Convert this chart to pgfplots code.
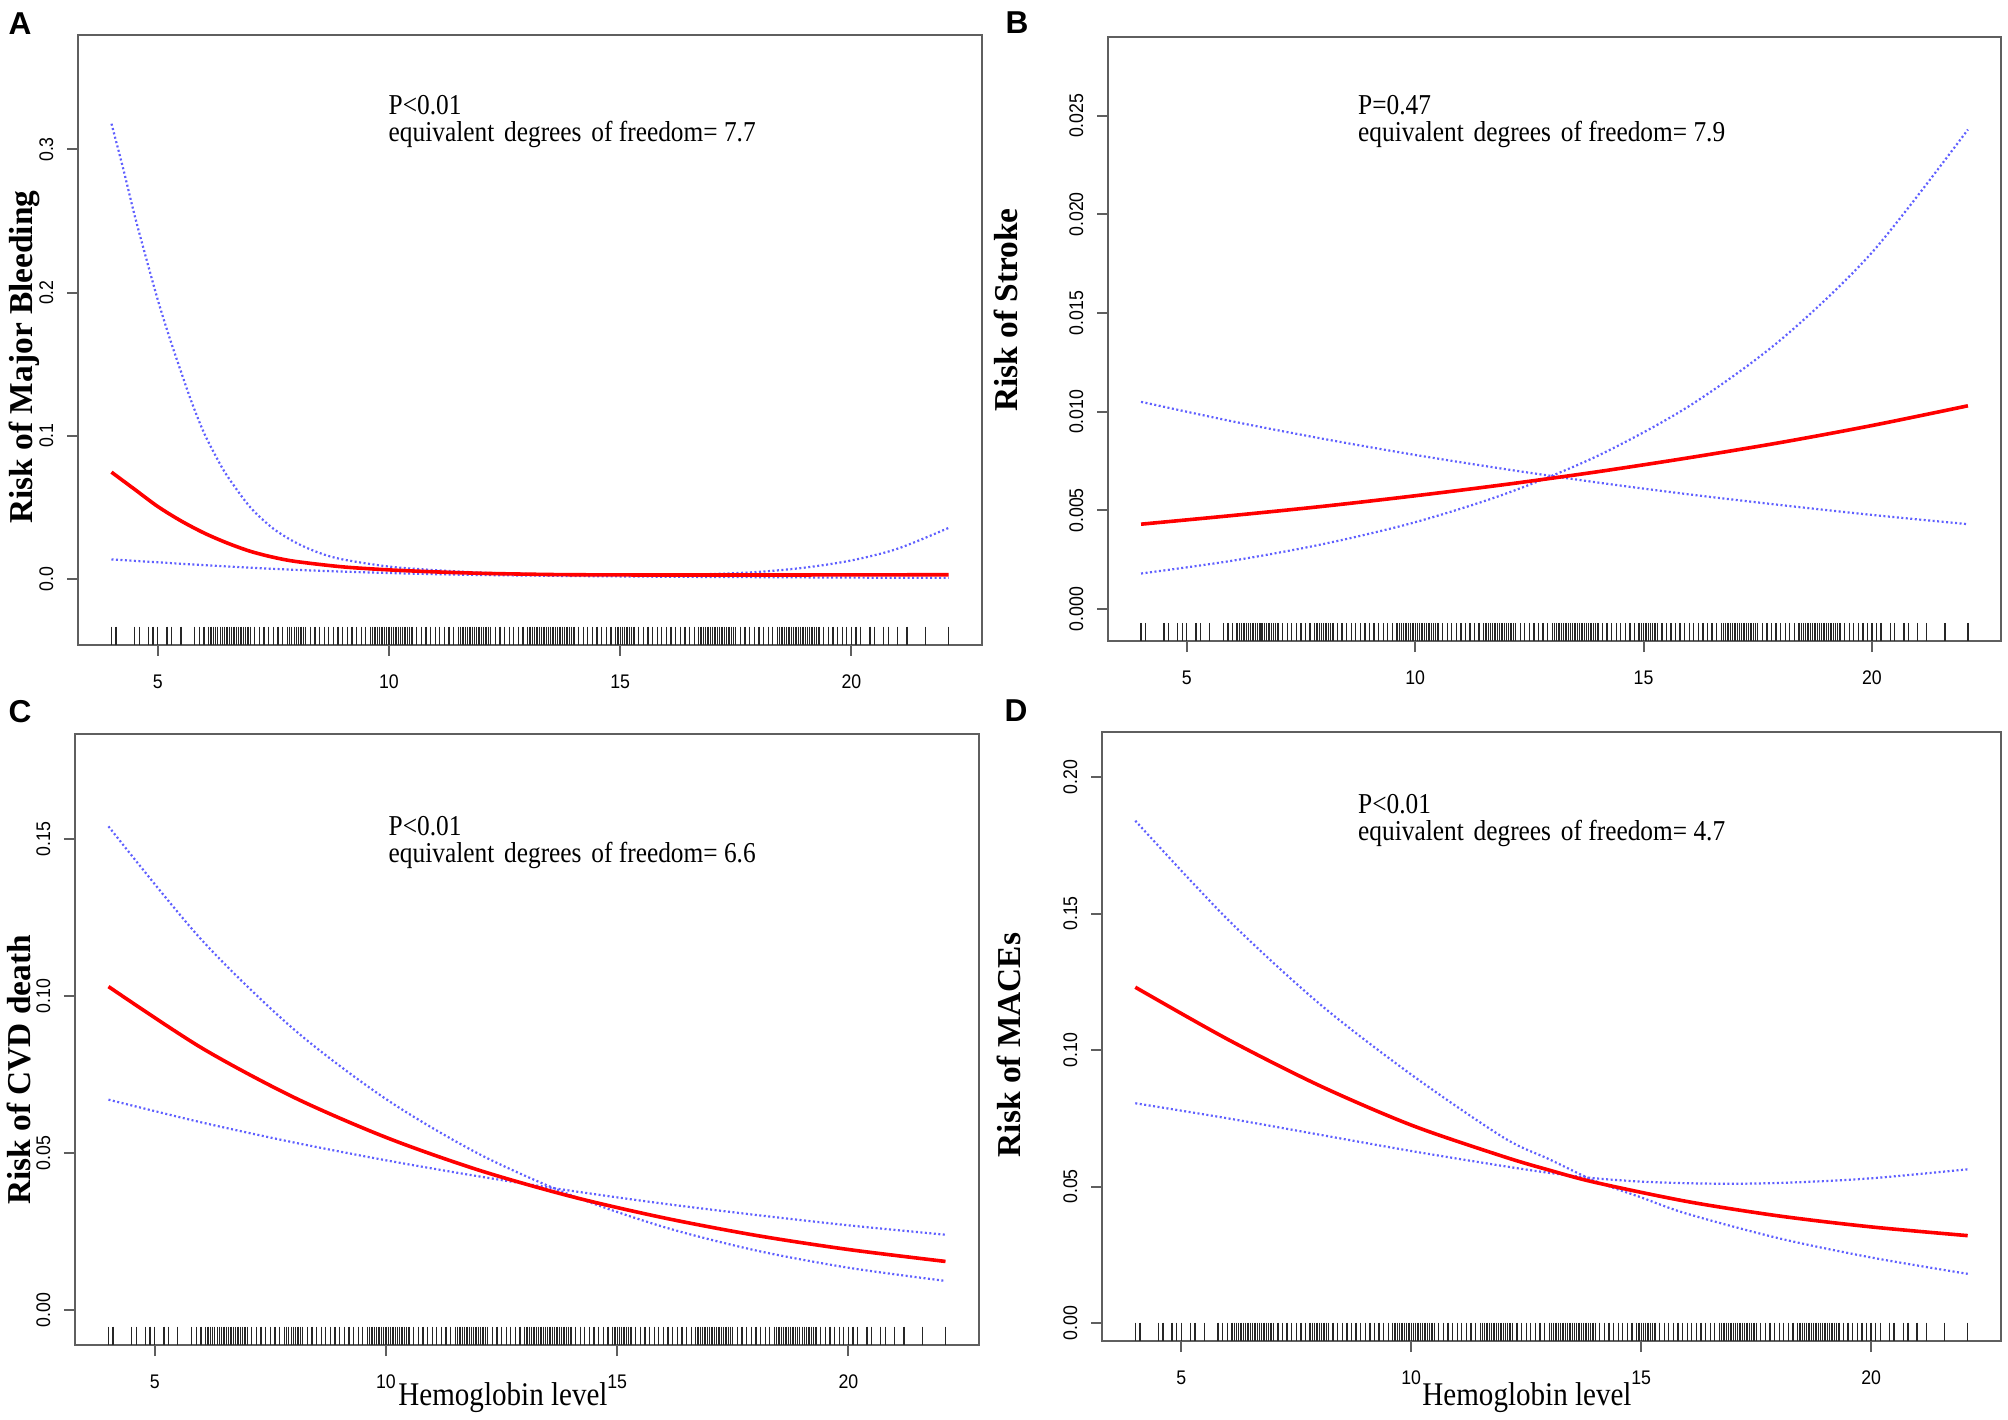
\documentclass[border=0pt]{standalone}
\usepackage{fontspec}
\setmainfont{Liberation Serif}
\newfontfamily\annfont{Liberation Serif}[FakeStretch=0.88]
\newfontfamily\tickfont{Liberation Sans}[FakeStretch=0.9]
\newfontfamily\panelfont{Liberation Sans}
\usepackage{pgfplots}
\pgfplotsset{compat=1.18}
\usepackage{pgfplotstable}

\definecolor{fitred}{RGB}{255,0,0}
\definecolor{ciblue}{RGB}{95,95,255}
\definecolor{boxgray}{RGB}{95,95,95}

% hemoglobin values of the rug (same sample in all four panels)
\pgfplotstableread[row sep=\\]{
hb\\
4.0\\ 4.1\\ 4.5\\ 4.6\\ 4.8\\ 4.9\\ 5.0\\ 5.2\\ 5.3\\ 5.5\\
5.8\\ 5.9\\ 6.0\\ 6.1\\ 6.15\\ 6.2\\ 6.25\\ 6.3\\ 6.35\\ 6.4\\ 6.45\\ 6.5\\ 6.55\\ 6.6\\ 6.65\\ 6.7\\ 6.75\\ 6.8\\ 6.85\\ 6.9\\ 6.95\\
7.0\\ 7.1\\ 7.2\\ 7.3\\ 7.4\\ 7.5\\ 7.6\\ 7.7\\ 7.8\\ 7.85\\ 7.9\\ 7.95\\ 8.0\\ 8.05\\ 8.1\\ 8.15\\ 8.2\\ 8.3\\ 8.4\\ 8.5\\ 8.6\\ 8.7\\ 8.8\\ 8.9\\
9.0\\ 9.1\\ 9.2\\ 9.3\\ 9.4\\ 9.5\\ 9.6\\ 9.65\\ 9.7\\ 9.75\\ 9.8\\ 9.85\\ 9.9\\ 9.95\\ 10.0\\ 10.05\\ 10.1\\ 10.15\\ 10.2\\ 10.25\\ 10.3\\ 10.35\\ 10.4\\ 10.45\\
10.5\\ 10.6\\ 10.7\\ 10.8\\ 10.9\\ 11.0\\ 11.1\\ 11.2\\ 11.3\\ 11.4\\ 11.5\\ 11.55\\ 11.6\\ 11.65\\ 11.7\\ 11.75\\ 11.8\\ 11.85\\ 11.9\\ 11.95\\ 12.0\\ 12.05\\ 12.1\\ 12.15\\
12.2\\ 12.3\\ 12.4\\ 12.5\\ 12.6\\ 12.7\\ 12.8\\ 12.9\\ 13.0\\ 13.05\\ 13.1\\ 13.15\\ 13.2\\ 13.25\\ 13.3\\ 13.35\\ 13.4\\ 13.45\\ 13.5\\ 13.55\\ 13.6\\ 13.65\\ 13.7\\
13.75\\ 13.8\\ 13.85\\ 13.9\\ 13.95\\ 14.0\\ 14.1\\ 14.2\\ 14.3\\ 14.4\\ 14.5\\ 14.6\\ 14.7\\ 14.8\\ 14.9\\ 14.95\\ 15.0\\ 15.05\\ 15.1\\ 15.15\\ 15.2\\ 15.25\\ 15.3\\
15.4\\ 15.5\\ 15.6\\ 15.7\\ 15.8\\ 15.9\\ 16.0\\ 16.1\\ 16.2\\ 16.3\\ 16.4\\ 16.5\\ 16.6\\ 16.7\\ 16.75\\ 16.8\\ 16.85\\ 16.9\\ 16.95\\ 17.0\\ 17.05\\ 17.1\\ 17.15\\
17.2\\ 17.25\\ 17.3\\ 17.35\\ 17.4\\ 17.45\\ 17.5\\ 17.6\\ 17.7\\ 17.8\\ 17.9\\ 18.0\\ 18.1\\ 18.2\\ 18.3\\ 18.4\\ 18.45\\ 18.5\\ 18.55\\ 18.6\\ 18.65\\ 18.7\\
18.75\\ 18.8\\ 18.85\\ 18.9\\ 18.95\\ 19.0\\ 19.05\\ 19.1\\ 19.15\\ 19.2\\ 19.25\\ 19.3\\ 19.4\\ 19.5\\ 19.6\\ 19.7\\ 19.8\\ 19.9\\ 20.0\\ 20.1\\ 20.2\\
20.4\\ 20.5\\ 20.7\\ 20.8\\ 21.0\\ 21.2\\ 21.6\\ 22.1\\
}\rugdata

\pgfplotsset{
  rcs/.style={
    scale only axis,
    anchor=south west,
    xmin=3.276, xmax=22.824,
    xtick={5,10,15,20},
    xticklabels={5,10,15,20},
    scaled x ticks=false, scaled y ticks=false,
    xtick pos=left, ytick pos=left,
    tick align=outside,
    major tick length=1.1mm,
    tick style={boxgray, line width=0.2mm},
    axis line style={boxgray, line width=0.25mm},
    ticklabel style={font=\tickfont\fontsize{5.6}{6}\selectfont, inner sep=0pt},
    xticklabel style={anchor=north, yshift=-1.8mm},
    % rotated labels: a positive yshift moves them to the left on the page
    yticklabel style={rotate=90, anchor=south, yshift=1.3mm},
  },
  fit/.style={fitred, line width=0.36mm, smooth},
  ci/.style={ciblue, line width=0.22mm, dash pattern=on 0.2mm off 0.25mm, smooth},
  rug/.style={only marks, black!85, mark=|, mark size=0.915mm, mark options={line width=0.13mm}},
}

\begin{document}
\begin{tikzpicture}
\useasboundingbox (0,0) rectangle (20.08,14.19);

% ---------------- A: major bleeding
\begin{axis}[rcs, at={(0.78cm,7.74cm)}, width=9.04cm, height=6.10cm,
  ymin=-0.0463, ymax=0.380,
  ytick={0,0.1,0.2,0.3}, yticklabels={0.0,0.1,0.2,0.3}]
\addplot[ci] coordinates {(4.0,0.318) (4.25,0.287) (4.5,0.254) (4.75,0.224) (5.0,0.195)
  (5.25,0.169) (5.5,0.145) (5.75,0.122) (6.0,0.102) (6.25,0.086) (6.5,0.072) (7.0,0.050)
  (7.5,0.035) (8.0,0.025) (8.5,0.018) (9.0,0.0135) (10.0,0.0085) (11.0,0.0060) (12.0,0.0043)
  (13.0,0.0034) (14.0,0.0029) (15.0,0.0027) (16.0,0.0028) (17.0,0.0033) (18.0,0.0048)
  (19.0,0.0078) (20.0,0.0128) (21.0,0.0210) (22.1,0.0355)};
\addplot[ci] coordinates {(4.0,0.0135) (5.0,0.0115) (6.0,0.0095) (7.0,0.0077) (8.0,0.0062)
  (9.0,0.0050) (10.0,0.0040) (11.0,0.0032) (12.0,0.0026) (14.0,0.0019) (16.0,0.0014)
  (18.0,0.0011) (20.0,0.0008) (22.1,0.0006)};
\addplot[fit] coordinates {(4.0,0.0745) (4.5,0.0625) (5.0,0.0505) (5.5,0.0405) (6.0,0.0320)
  (6.5,0.0250) (7.0,0.0192) (7.5,0.0150) (8.0,0.0120) (9.0,0.0083) (10.0,0.0062)
  (11.0,0.0048) (12.0,0.0038) (13.0,0.0032) (14.0,0.0028) (16.0,0.0026) (18.0,0.0026)
  (20.0,0.0027) (22.1,0.0028)};
\addplot[rug] table[x index=0, y index=0, y expr=-0.0399] {\rugdata};
\end{axis}

% ---------------- B: stroke
\begin{axis}[rcs, at={(11.08cm,7.78cm)}, width=8.93cm, height=6.04cm,
  ymin=-0.00162, ymax=0.02899,
  ytick={0,0.005,0.01,0.015,0.02,0.025},
  yticklabels={0.000,0.005,0.010,0.015,0.020,0.025}]
\addplot[ci] coordinates {(4,0.0105) (6,0.00951) (8,0.00862) (10,0.00781) (12,0.00708)
  (14,0.00641) (16,0.00581) (18,0.00527) (20,0.00477) (22.1,0.00430)};
\addplot[ci] coordinates {(4,0.0018) (6,0.00245) (8,0.00330) (10,0.00440) (12,0.00586)
  (14,0.00777) (16,0.01029) (18,0.01364) (20,0.01807) (22.1,0.0243)};
\addplot[fit] coordinates {(4,0.0043) (6,0.00474) (8,0.00521) (10,0.00574) (12,0.00632)
  (14,0.00696) (16,0.00767) (18,0.00844) (20,0.00930) (22.1,0.0103)};
\addplot[rug] table[x index=0, y index=0, y expr=-0.00116] {\rugdata};
\end{axis}

% ---------------- C: CVD death
\begin{axis}[rcs, at={(0.75cm,0.74cm)}, width=9.04cm, height=6.11cm,
  ymin=-0.0111, ymax=0.1834,
  ytick={0,0.05,0.1,0.15}, yticklabels={0.00,0.05,0.10,0.15}]
\addplot[ci] coordinates {(4,0.154) (6,0.1181) (8,0.0895) (10,0.0672) (12,0.0498)
  (14,0.0366) (16,0.0265) (18,0.0190) (20,0.0135) (22.1,0.0093)};
\addplot[ci] coordinates {(4,0.067) (6,0.0598) (8,0.0534) (10,0.0477) (12,0.0426)
  (14,0.0380) (16,0.0339) (18,0.0303) (20,0.0270) (22.1,0.0240)};
\addplot[fit] coordinates {(4,0.103) (6,0.0836) (8,0.0678) (10,0.0550) (12,0.0446)
  (14,0.0362) (16,0.0294) (18,0.0238) (20,0.0193) (22.1,0.0155)};
\addplot[rug] table[x index=0, y index=0, y expr=-0.00818] {\rugdata};
\end{axis}

% ---------------- D: MACEs
\begin{axis}[rcs, at={(11.02cm,0.78cm)}, width=8.99cm, height=6.09cm,
  ymin=-0.0066, ymax=0.2165,
  ytick={0,0.05,0.1,0.15,0.2}, yticklabels={0.00,0.05,0.10,0.15,0.20}]
\addplot[ci] coordinates {(4,0.184) (6,0.148) (8,0.117) (10,0.091) (12,0.068) (13,0.060)
  (14,0.052) (15,0.046) (16,0.040) (18,0.031) (20,0.024) (22.1,0.018)};
\addplot[ci] coordinates {(4,0.0805) (6,0.075) (8,0.069) (10,0.063) (12,0.0575) (13,0.055)
  (14,0.053) (15,0.0518) (16,0.0512) (17,0.051) (18,0.0513) (19,0.052) (20,0.053)
  (21,0.0545) (22.1,0.0563)};
\addplot[fit] coordinates {(4,0.123) (6,0.104) (8,0.087) (10,0.0725) (12,0.061) (13,0.056)
  (14,0.0515) (16,0.0445) (18,0.0392) (20,0.0352) (22.1,0.032)};
\addplot[rug] table[x index=0, y index=0, y expr=-0.00325] {\rugdata};
\end{axis}

% panel letters
\begin{scope}[every node/.style={inner sep=0pt, font=\panelfont\bfseries\fontsize{9}{10}\selectfont}]
\node at (0.20,13.95) {A};
\node at (10.17,13.96) {B};
\node at (0.20,7.07) {C};
\node at (10.16,7.08) {D};
\end{scope}

% annotations
\begin{scope}[every node/.style={inner sep=0pt, anchor=base west, font=\annfont\fontsize{8.2}{9}\selectfont}]
\node at (3.88,13.04) {P<0.01};
\node at (3.88,12.77) {equivalent\hspace{0.12em} degrees\hspace{0.12em} of freedom= 7.7};
\node at (13.575,13.04) {P=0.47};
\node at (13.575,12.77) {equivalent\hspace{0.12em} degrees\hspace{0.12em} of freedom= 7.9};
\node at (3.88,5.84) {P<0.01};
\node at (3.88,5.57) {equivalent\hspace{0.12em} degrees\hspace{0.12em} of freedom= 6.6};
\node at (13.575,6.06) {P<0.01};
\node at (13.575,5.79) {equivalent\hspace{0.12em} degrees\hspace{0.12em} of freedom= 4.7};
\end{scope}

% axis titles
\begin{scope}[every node/.style={inner sep=0pt, anchor=base, rotate=90, font=\bfseries\fontsize{9.5}{11}\selectfont}]
\node at (0.32,10.62) {Risk of Major Bleeding};
\node at (10.17,11.09) {Risk of Stroke};
\node at (0.31,3.49) {Risk of CVD death};
\node at (10.20,3.74) {Risk of MACEs};
\end{scope}
\begin{scope}[every node/.style={inner sep=0pt, anchor=base, font=\annfont\fontsize{9.4}{11}\selectfont}]
\node at (5.03,0.14) {Hemoglobin level};
\node at (15.27,0.14) {Hemoglobin level};
\end{scope}
\end{tikzpicture}
\end{document}
